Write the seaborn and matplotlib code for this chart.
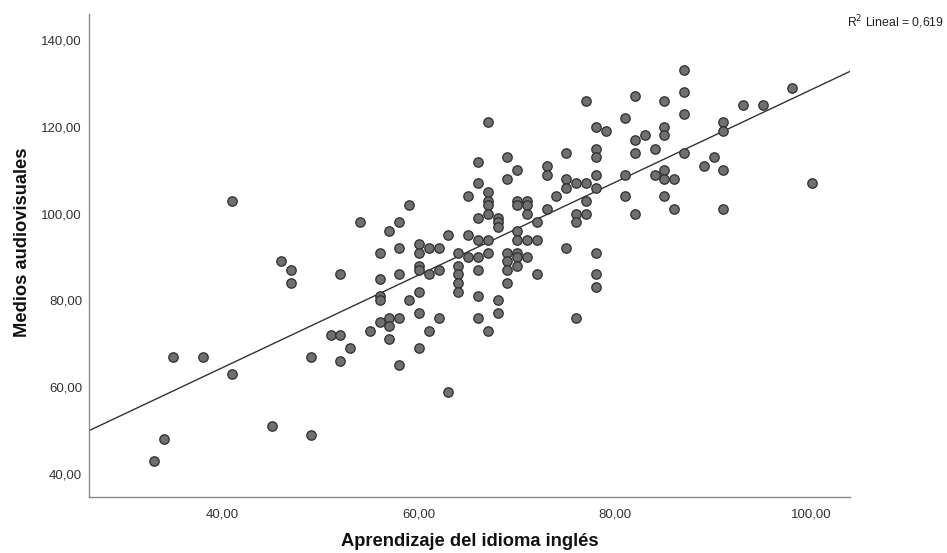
import matplotlib
matplotlib.use("Agg")
import matplotlib.pyplot as plt
from matplotlib.ticker import FuncFormatter, FixedLocator
import seaborn as sns
import pandas as pd

# puntos (x = aprendizaje del idioma ingles, y = medios audiovisuales)
aprendizaje = [41, 46, 47, 47, 35, 38, 41, 49, 45, 49, 34, 33, 63,
               66, 66, 65, 67, 67, 67, 67, 68, 66, 59, 54, 58, 57, 63, 65, 66, 67, 60,
               56, 58, 60, 61, 62, 64, 65, 66, 67, 52, 56, 58, 60, 60, 61, 62, 64, 64,
               64, 64, 66, 56, 56, 59, 60, 68, 66, 68, 57, 58, 57, 56, 55, 51, 52, 60,
               62, 66, 61, 67, 53, 57, 60, 52, 58, 68, 68,
               67, 77, 82, 85, 81, 78, 79, 85, 85, 83, 82, 84, 82, 78, 78, 75, 69, 70,
               73, 73, 69, 75, 75, 76, 77, 78, 78, 81, 84, 85, 85, 86, 81, 85, 86, 82,
               74, 77, 76, 76, 77, 73, 72, 70, 70, 71, 71, 71, 70, 70, 71, 72, 69, 70,
               70, 71, 69, 70, 69, 75, 78, 72, 69, 78, 78, 76,
               87, 87, 87, 91, 91, 93, 95, 98, 87, 89, 90, 91, 91, 100]
medios = [103, 89, 87, 84, 67, 67, 63, 67, 51, 49, 48, 43, 59,
          112, 107, 104, 105, 103, 102, 100, 99, 99, 102, 98, 98, 96, 95, 95, 94, 94, 93,
          91, 92, 91, 92, 92, 91, 90, 90, 91, 86, 85, 86, 88, 87, 86, 87, 88, 86,
          84, 82, 87, 81, 80, 80, 82, 80, 81, 77, 76, 76, 74, 75, 73, 72, 72, 77,
          76, 76, 73, 73, 69, 71, 69, 66, 65, 98, 97,
          121, 126, 127, 126, 122, 120, 119, 120, 118, 118, 117, 115, 114, 115, 113, 114, 113, 110,
          111, 109, 108, 108, 106, 107, 107, 109, 106, 109, 109, 110, 108, 108, 104, 104, 101, 100,
          104, 103, 100, 98, 100, 101, 98, 103, 102, 103, 102, 100, 96, 94, 94, 94, 91, 91,
          90, 90, 89, 88, 87, 92, 91, 86, 84, 86, 83, 76,
          133, 128, 123, 121, 119, 125, 125, 129, 114, 111, 113, 110, 101, 107]

x_ticks = [40, 60, 80, 100]
y_ticks = [40, 60, 80, 100, 120, 140]
r2_text = "R$^2$ Lineal = 0,619"

df = pd.DataFrame({"aprendizaje": aprendizaje, "medios": medios})

sns.set_style("white")
plt.rcParams["font.family"] = ["Liberation Sans", "DejaVu Sans"]

fig = plt.figure(figsize=(9.47, 5.53), dpi=100)
ax = fig.add_axes([0.094, 0.1013, 0.8036, 0.8734])
ax.set_xlim(26.4, 103.9)
ax.set_ylim(34.7, 146.0)

sns.scatterplot(data=df, x="aprendizaje", y="medios", ax=ax, s=46,
                color="#6f6f6f", edgecolor="#2e2e2e", linewidth=0.9, zorder=3)
sns.regplot(data=df, x="aprendizaje", y="medios", ax=ax, scatter=False, ci=None,
            truncate=False, line_kws={"color": "#333333", "linewidth": 1.0, "zorder": 2})

ax.set_xlim(26.4, 103.9)
ax.set_ylim(34.7, 146.0)
ax.xaxis.set_major_locator(FixedLocator(x_ticks))
ax.yaxis.set_major_locator(FixedLocator(y_ticks))
fmt = FuncFormatter(lambda v, p: f"{v:.2f}".replace(".", ","))
ax.xaxis.set_major_formatter(fmt)
ax.yaxis.set_major_formatter(fmt)
ax.tick_params(axis="both", length=0, labelsize=9.5, labelcolor="#333333")
ax.tick_params(axis="x", pad=8)
ax.tick_params(axis="y", pad=5)

for side in ["top", "right"]:
    ax.spines[side].set_visible(False)
for side in ["left", "bottom"]:
    ax.spines[side].set_color("#8a8a8a")
    ax.spines[side].set_linewidth(1.0)

ax.set_xlabel("Aprendizaje del idioma inglés", fontsize=13.2, fontweight="bold",
              color="#111111", labelpad=9)
ax.set_ylabel("Medios audiovisuales", fontsize=13.2, fontweight="bold",
              color="#111111")
ax.yaxis.set_label_coords(-0.076, 0.527)

fig.text(0.997, 0.96, r2_text, ha="right", va="center", fontsize=8.8, color="#222222")

fig.savefig("out.png", dpi=100)
